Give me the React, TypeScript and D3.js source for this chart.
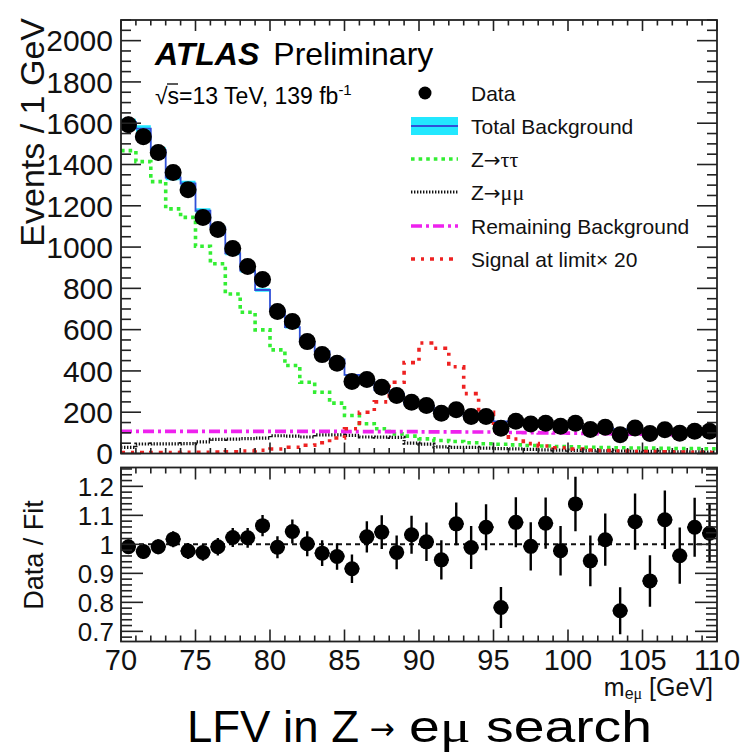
import React from "react";
import * as d3 from "d3";

// m_eμ binning: 1 GeV bins from 70 to 110 GeV
const binEdges = d3.range(70, 111, 1);

// Observed events per bin
const dataCounts = [
  1593, 1535, 1458, 1361, 1278, 1143, 1085, 993, 906, 843,
  688, 639, 542, 479, 437, 349, 358, 321, 281, 248,
  232, 195, 212, 179, 179, 122, 156, 143, 147, 132,
  147, 116, 127, 91, 124, 97, 115, 98, 108, 108,
];

// Post-fit total background per bin
const totalBkg = [
  1606, 1574, 1470, 1337, 1308, 1176, 1094, 970, 886, 792,
  695, 612, 541, 494, 456, 381, 349, 308, 289, 240,
  230, 206, 198, 181, 169, 156, 145, 144, 137, 135,
  129, 123, 125, 118, 115, 111, 106, 102, 102, 104,
];

// Background components
const zTauTau = [
  1467, 1414, 1317, 1185, 1144, 1004, 919, 773, 684, 599,
  502, 426, 345, 297, 244, 184, 144, 120, 95, 84,
  71, 63, 58, 52, 47, 45, 42, 39, 36, 34,
  32, 30, 29, 28, 27, 26, 25, 24, 24, 23,
];
const zMuMu = [
  30, 46, 47, 47, 48, 56, 68, 70, 72, 74,
  86, 84, 80, 90, 90, 88, 80, 79, 78, 50,
  45, 32, 30, 30, 26, 24, 22, 20, 18, 16,
  15, 14, 13, 12, 11, 10, 9, 8, 8, 7,
];
const remainingBkg = [
  107, 107, 107, 107, 107, 107, 107, 107, 107, 107,
  107, 107, 107, 107, 107, 106, 106, 106, 106, 106,
  105, 105, 105, 104, 104, 103, 102, 101, 100, 99,
  98, 97, 96, 95, 94, 93, 92, 91, 90, 89,
];
// Signal at the upper limit, scaled by 20
const signalX20 = [
  4, 4, 5, 5, 6, 6, 7, 8, 12, 16,
  22, 30, 40, 52, 75, 120, 200, 250, 345, 440,
  535, 510, 420, 290, 200, 110, 70, 48, 36, 28,
  22, 17, 14, 12, 10, 9, 8, 7, 6, 5,
];
// Relative uncertainty of the total background (band width)
const bkgRelUnc = 0.01;

const xMajorTicks = [70, 75, 80, 85, 90, 95, 100, 105, 110];
const yMainTicks = [0, 200, 400, 600, 800, 1000, 1200, 1400, 1600, 1800, 2000];
const yRatioTicks = [0.7, 0.8, 0.9, 1.0, 1.1, 1.2];
const yRatioLabels = ["0.7", "0.8", "0.9", "1", "1.1", "1.2"];

const SANS = "'Liberation Sans', Arial, Helvetica, sans-serif";
const SERIF = "'Liberation Serif', 'DejaVu Serif', serif";
const ARROW_FONT = "'DejaVu Sans', sans-serif";

const COL = {
  band: "#22e8ff",
  bkgLine: "#3050d8",
  tautau: "#33ee33",
  mumu: "#111111",
  remain: "#ee22ee",
  signal: "#ee2222",
};

const STYLE = {
  tautau: { stroke: COL.tautau, strokeWidth: 3.6, strokeDasharray: "3.6 4" },
  mumu: { stroke: COL.mumu, strokeWidth: 3.2, strokeDasharray: "1.4 1.6" },
  remain: { stroke: COL.remain, strokeWidth: 3.6, strokeDasharray: "11 4 3 4" },
  signal: { stroke: COL.signal, strokeWidth: 3.6, strokeDasharray: "4 6 3 6" },
};

// Frame geometry
const L = 121;
const R = 717;
const topT = 20;
const topB = 453.5;
const ratT = 467.5;
const ratB = 641.5;

export default function App() {
  const x = d3.scaleLinear().domain([70, 110]).range([L, R]);
  const y = d3.scaleLinear().domain([0, 2100]).range([topB, topT]);
  const yr = d3.scaleLinear().domain([0.665, 1.265]).range([ratB, ratT]);

  const n = dataCounts.length;
  const centers = binEdges.slice(0, n).map((e, i) => (e + binEdges[i + 1]) / 2);

  const stepPts = (vals: number[]) => {
    const pts: [number, number][] = vals.map((v, i) => [binEdges[i], v]);
    pts.push([binEdges[n], vals[n - 1]]);
    return pts;
  };
  const stepLine = d3
    .line<[number, number]>()
    .x((d) => x(d[0]))
    .y((d) => y(d[1]))
    .curve(d3.curveStepAfter);

  const bandPts = totalBkg.map((v, i) => ({ e: binEdges[i], v }));
  bandPts.push({ e: binEdges[n], v: totalBkg[n - 1] });
  const band = d3
    .area<{ e: number; v: number }>()
    .x((d) => x(d.e))
    .y0((d) => y(d.v * (1 - bkgRelUnc)))
    .y1((d) => y(d.v * (1 + bkgRelUnc)))
    .curve(d3.curveStepAfter)(bandPts);

  const ratio = dataCounts.map((d, i) => d / totalBkg[i]);
  const ratioErr = dataCounts.map((d, i) => Math.sqrt(d) / totalBkg[i]);

  const xMinor = d3.range(70, 111, 1).filter((v) => v % 5 !== 0);
  const yMinor = d3.range(0, 2101, 50).filter((v) => v % 200 !== 0);
  const yrMinor = d3
    .range(0.68, 1.265, 0.02)
    .map((v) => Math.round(v * 100) / 100)
    .filter((v) => Math.round(v * 100) % 10 !== 0);

  const tickStroke = { stroke: "#222", strokeWidth: 1.6 };

  const legendX0 = 411;
  const legendX1 = 458;
  const legendTextX = 471;
  const legendRows = [93, 126, 159, 192, 226, 259];

  return (
    <svg
      width={742}
      height={755}
      style={{ position: "absolute", left: 0, top: 0, background: "#fff" }}
      fontFamily={SANS}
    >
      <defs>
        <clipPath id="topClip">
          <rect x={L} y={topT} width={R - L} height={topB - topT} />
        </clipPath>
        <clipPath id="ratClip">
          <rect x={L} y={ratT} width={R - L} height={ratB - ratT} />
        </clipPath>
      </defs>

      {/* ---------- main panel ---------- */}
      <g clipPath="url(#topClip)">
        <path d={band || ""} fill={COL.band} stroke="none" />
        <path d={stepLine(stepPts(totalBkg)) || ""} fill="none" stroke={COL.bkgLine} strokeWidth={1.8} />
        <path d={stepLine(stepPts(zTauTau)) || ""} fill="none" {...STYLE.tautau} />
        <path d={stepLine(stepPts(zMuMu)) || ""} fill="none" {...STYLE.mumu} />
        <path d={stepLine(stepPts(remainingBkg)) || ""} fill="none" {...STYLE.remain} />
        <path d={stepLine(stepPts(signalX20)) || ""} fill="none" {...STYLE.signal} />
        {dataCounts.map((d, i) => {
          const cx = x(centers[i]);
          const e = Math.sqrt(d);
          return (
            <g key={i}>
              <line x1={cx} x2={cx} y1={y(d - e)} y2={y(d + e)} stroke="#000" strokeWidth={2.2} />
              <line x1={x(binEdges[i])} x2={x(binEdges[i + 1])} y1={y(d)} y2={y(d)} stroke="#000" strokeWidth={2.2} />
              <circle cx={cx} cy={y(d)} r={8.5} fill="#000" />
            </g>
          );
        })}
      </g>

      {/* main panel frame and ticks */}
      <rect x={L} y={topT} width={R - L} height={topB - topT} fill="none" stroke="#222" strokeWidth={1.8} />
      {yMainTicks.map((v) => (
        <g key={"ym" + v}>
          <line x1={L} x2={L + 20} y1={y(v)} y2={y(v)} {...tickStroke} />
          <line x1={R} x2={R - 20} y1={y(v)} y2={y(v)} {...tickStroke} />
          <text x={113} y={y(v)} dy="0.36em" textAnchor="end" fontSize={30} fill="#111">
            {v}
          </text>
        </g>
      ))}
      {yMinor.map((v) => (
        <g key={"yn" + v}>
          <line x1={L} x2={L + 10} y1={y(v)} y2={y(v)} {...tickStroke} />
          <line x1={R} x2={R - 10} y1={y(v)} y2={y(v)} {...tickStroke} />
        </g>
      ))}
      {xMajorTicks.map((v) => (
        <g key={"xm" + v}>
          <line x1={x(v)} x2={x(v)} y1={topB} y2={topB - 11} {...tickStroke} />
          <line x1={x(v)} x2={x(v)} y1={topT} y2={topT + 11} {...tickStroke} />
        </g>
      ))}
      {xMinor.map((v) => (
        <g key={"xn" + v}>
          <line x1={x(v)} x2={x(v)} y1={topB} y2={topB - 5.5} {...tickStroke} />
          <line x1={x(v)} x2={x(v)} y1={topT} y2={topT + 5.5} {...tickStroke} />
        </g>
      ))}

      <text transform="translate(44,18) rotate(-90)" textAnchor="end" fontSize={34} fill="#111">
        Events / 1 GeV
      </text>

      {/* ATLAS label */}
      <text x={155} y={65} fontSize={32} fill="#000">
        <tspan fontWeight="bold" fontStyle="italic">ATLAS</tspan>
        <tspan dx={14}>Preliminary</tspan>
      </text>
      <text x={155} y={104} fontSize={23} fill="#000">
        <tspan>√s=13 TeV, 139 fb</tspan>
        <tspan fontSize={15} dy={-9}>-1</tspan>
      </text>
      <line x1={167} x2={178} y1={84} y2={84} stroke="#000" strokeWidth={1.3} />

      {/* legend */}
      <circle cx={425} cy={legendRows[0]} r={6.5} fill="#000" />
      <rect x={legendX0} y={legendRows[1] - 9} width={legendX1 - legendX0} height={18} fill={COL.band} />
      <line x1={legendX0} x2={legendX1} y1={legendRows[1]} y2={legendRows[1]} stroke={COL.bkgLine} strokeWidth={2} />
      <line x1={legendX0} x2={legendX1} y1={legendRows[2]} y2={legendRows[2]} {...STYLE.tautau} />
      <line x1={legendX0} x2={legendX1} y1={legendRows[3]} y2={legendRows[3]} {...STYLE.mumu} />
      <line x1={legendX0} x2={legendX1} y1={legendRows[4]} y2={legendRows[4]} {...STYLE.remain} />
      <line x1={legendX0} x2={legendX1} y1={legendRows[5]} y2={legendRows[5]} {...STYLE.signal} />
      <g fontSize={21} fill="#111">
        <text x={legendTextX} y={legendRows[0]} dy="0.36em">Data</text>
        <text x={legendTextX} y={legendRows[1]} dy="0.36em">Total Background</text>
        <text x={legendTextX} y={legendRows[2]} dy="0.36em">
          Z<tspan fontFamily={ARROW_FONT} fontSize={20}>→</tspan>
          <tspan fontFamily={SERIF} fontSize={22}>ττ</tspan>
        </text>
        <text x={legendTextX} y={legendRows[3]} dy="0.36em">
          Z<tspan fontFamily={ARROW_FONT} fontSize={20}>→</tspan>
          <tspan fontFamily={SERIF} fontSize={22}>μμ</tspan>
        </text>
        <text x={legendTextX} y={legendRows[4]} dy="0.36em">Remaining Background</text>
        <text x={legendTextX} y={legendRows[5]} dy="0.36em">Signal at limit× 20</text>
      </g>

      {/* ---------- ratio panel ---------- */}
      <g clipPath="url(#ratClip)">
        <line x1={L} x2={R} y1={yr(1)} y2={yr(1)} stroke="#111" strokeWidth={2} strokeDasharray="5 4" />
        {ratio.map((r, i) => {
          const cx = x(centers[i]);
          return (
            <g key={"r" + i}>
              <line x1={cx} x2={cx} y1={yr(r - ratioErr[i])} y2={yr(r + ratioErr[i])} stroke="#000" strokeWidth={2.4} />
              <line x1={x(binEdges[i])} x2={x(binEdges[i + 1])} y1={yr(r)} y2={yr(r)} stroke="#000" strokeWidth={2.2} />
              <circle cx={cx} cy={yr(r)} r={7.5} fill="#000" />
            </g>
          );
        })}
      </g>
      <rect x={L} y={ratT} width={R - L} height={ratB - ratT} fill="none" stroke="#222" strokeWidth={1.8} />
      {yRatioTicks.map((v, i) => (
        <g key={"yr" + v}>
          <line x1={L} x2={L + 22} y1={yr(v)} y2={yr(v)} {...tickStroke} />
          <line x1={R} x2={R - 22} y1={yr(v)} y2={yr(v)} {...tickStroke} />
          <text x={114} y={yr(v)} dy="0.36em" textAnchor="end" fontSize={26} fill="#111">
            {yRatioLabels[i]}
          </text>
        </g>
      ))}
      {yrMinor.map((v) => (
        <g key={"yrn" + v}>
          <line x1={L} x2={L + 11} y1={yr(v)} y2={yr(v)} {...tickStroke} />
          <line x1={R} x2={R - 11} y1={yr(v)} y2={yr(v)} {...tickStroke} />
        </g>
      ))}
      {xMajorTicks.map((v) => (
        <g key={"rxm" + v}>
          <line x1={x(v)} x2={x(v)} y1={ratB} y2={ratB - 12} {...tickStroke} />
          <line x1={x(v)} x2={x(v)} y1={ratT} y2={ratT + 12} {...tickStroke} />
          <text x={x(v)} y={670} textAnchor="middle" fontSize={29} fill="#111">
            {v}
          </text>
        </g>
      ))}
      {xMinor.map((v) => (
        <g key={"rxn" + v}>
          <line x1={x(v)} x2={x(v)} y1={ratB} y2={ratB - 6} {...tickStroke} />
          <line x1={x(v)} x2={x(v)} y1={ratT} y2={ratT + 6} {...tickStroke} />
        </g>
      ))}

      <text transform="translate(43,555) rotate(-90)" textAnchor="middle" fontSize={27} fill="#111">
        Data / Fit
      </text>

      {/* x-axis title */}
      <text x={713} y={696} textAnchor="end" fontSize={25} fill="#111">
        m<tspan fontSize={16} dy={3}>e</tspan>
        <tspan fontSize={16} fontFamily={SERIF}>μ</tspan>
        <tspan fontSize={25} dy={-3}> [GeV]</tspan>
      </text>

      {/* caption */}
      <text x={187} y={742} fontSize={45} textLength={172} lengthAdjust="spacingAndGlyphs" fill="#000">
        LFV in Z
      </text>
      <text x={382} y={739} textAnchor="middle" fontSize={30} fontFamily={ARROW_FONT} fill="#000">
        →
      </text>
      <text x={409} y={742} fontSize={45} textLength={243} lengthAdjust="spacingAndGlyphs" fill="#000">
        e<tspan fontFamily={SERIF} fontSize={47}>μ</tspan> search
      </text>
    </svg>
  );
}
